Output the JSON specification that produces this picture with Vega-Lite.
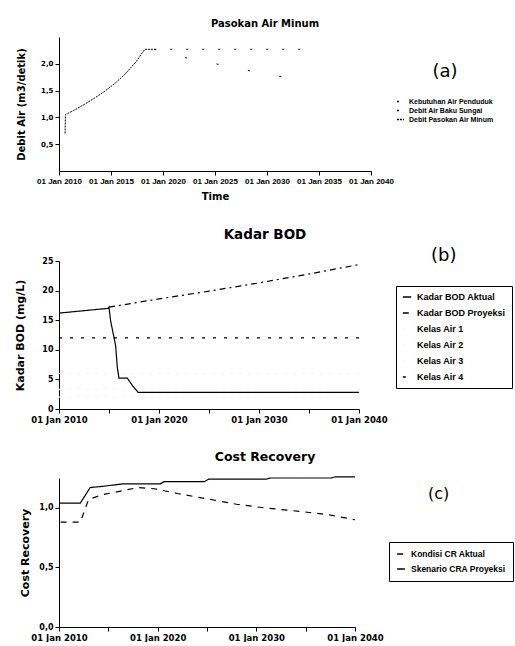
{
  "$schema": "https://vega.github.io/schema/vega-lite/v6.json",
  "padding": {"left": 14, "top": 19, "right": 0, "bottom": 0},
  "background": "white",
  "columns": 1,
  "spacing": 26,
  "resolve": {
    "scale": {"x": "independent", "y": "independent", "color": "independent", "strokeDash": "independent", "opacity": "independent"},
    "legend": {"color": "independent", "strokeDash": "independent", "opacity": "independent"}
  },
  "datasets": {
    "a": [
      {"date": "2010-08-01", "value": 0.7, "series": "Debit Pasokan Air Minum"},
      {"date": "2010-08-15", "value": 1.05, "series": "Debit Pasokan Air Minum"},
      {"date": "2011-06-01", "value": 1.13, "series": "Debit Pasokan Air Minum"},
      {"date": "2012-06-01", "value": 1.24, "series": "Debit Pasokan Air Minum"},
      {"date": "2013-06-01", "value": 1.36, "series": "Debit Pasokan Air Minum"},
      {"date": "2014-06-01", "value": 1.49, "series": "Debit Pasokan Air Minum"},
      {"date": "2015-06-01", "value": 1.64, "series": "Debit Pasokan Air Minum"},
      {"date": "2016-06-01", "value": 1.82, "series": "Debit Pasokan Air Minum"},
      {"date": "2017-06-01", "value": 2.04, "series": "Debit Pasokan Air Minum"},
      {"date": "2018-04-01", "value": 2.27, "series": "Debit Pasokan Air Minum"},
      {"date": "2019-03-01", "value": 2.27, "series": "Debit Pasokan Air Minum"},
      {"date": "2019-03-01", "value": 2.27, "series": "Debit Air Baku Sungai"},
      {"date": "2034-01-01", "value": 2.27, "series": "Debit Air Baku Sungai"},
      {"date": "2019-03-01", "value": 2.27, "series": "Kebutuhan Air Penduduk"},
      {"date": "2022-11-01", "value": 2.08, "series": "Kebutuhan Air Penduduk"},
      {"date": "2026-03-01", "value": 1.96, "series": "Kebutuhan Air Penduduk"},
      {"date": "2030-01-01", "value": 1.8, "series": "Kebutuhan Air Penduduk"},
      {"date": "2034-01-01", "value": 1.68, "series": "Kebutuhan Air Penduduk"}
    ],
    "b": [
      {"date": "2010-01-01", "value": 2, "series": "Kelas Air 1"},
      {"date": "2040-01-01", "value": 2, "series": "Kelas Air 1"},
      {"date": "2010-01-01", "value": 3.3, "series": "Kelas Air 2"},
      {"date": "2040-01-01", "value": 3.3, "series": "Kelas Air 2"},
      {"date": "2010-01-01", "value": 6, "series": "Kelas Air 3"},
      {"date": "2040-01-01", "value": 6, "series": "Kelas Air 3"},
      {"date": "2010-01-01", "value": 12, "series": "Kelas Air 4"},
      {"date": "2040-01-01", "value": 12, "series": "Kelas Air 4"},
      {"date": "2010-01-01", "value": 16.2, "series": "Kadar BOD Aktual"},
      {"date": "2014-12-01", "value": 17.0, "series": "Kadar BOD Aktual"},
      {"date": "2015-01-01", "value": 17.2, "series": "Kadar BOD Aktual"},
      {"date": "2015-03-01", "value": 14.9, "series": "Kadar BOD Aktual"},
      {"date": "2015-09-01", "value": 10.7, "series": "Kadar BOD Aktual"},
      {"date": "2015-11-01", "value": 7.0, "series": "Kadar BOD Aktual"},
      {"date": "2016-01-01", "value": 5.2, "series": "Kadar BOD Aktual"},
      {"date": "2016-11-01", "value": 5.2, "series": "Kadar BOD Aktual"},
      {"date": "2017-06-01", "value": 3.8, "series": "Kadar BOD Aktual"},
      {"date": "2017-12-01", "value": 2.8, "series": "Kadar BOD Aktual"},
      {"date": "2040-01-01", "value": 2.8, "series": "Kadar BOD Aktual"},
      {"date": "2015-01-01", "value": 17.2, "series": "Kadar BOD Proyeksi"},
      {"date": "2020-01-01", "value": 18.6, "series": "Kadar BOD Proyeksi"},
      {"date": "2025-01-01", "value": 19.9, "series": "Kadar BOD Proyeksi"},
      {"date": "2030-01-01", "value": 21.3, "series": "Kadar BOD Proyeksi"},
      {"date": "2035-01-01", "value": 22.8, "series": "Kadar BOD Proyeksi"},
      {"date": "2040-01-01", "value": 24.4, "series": "Kadar BOD Proyeksi"}
    ],
    "c": [
      {"date": "2010-03-01", "value": 0.88, "series": "Kondisi CR Aktual"},
      {"date": "2012-03-01", "value": 0.88, "series": "Kondisi CR Aktual"},
      {"date": "2013-01-01", "value": 1.07, "series": "Kondisi CR Aktual"},
      {"date": "2014-06-01", "value": 1.11, "series": "Kondisi CR Aktual"},
      {"date": "2016-04-01", "value": 1.14, "series": "Kondisi CR Aktual"},
      {"date": "2018-01-01", "value": 1.17, "series": "Kondisi CR Aktual"},
      {"date": "2019-09-01", "value": 1.16, "series": "Kondisi CR Aktual"},
      {"date": "2022-01-01", "value": 1.12, "series": "Kondisi CR Aktual"},
      {"date": "2025-05-01", "value": 1.07, "series": "Kondisi CR Aktual"},
      {"date": "2028-01-01", "value": 1.03, "series": "Kondisi CR Aktual"},
      {"date": "2030-10-01", "value": 1.0, "series": "Kondisi CR Aktual"},
      {"date": "2034-06-01", "value": 0.97, "series": "Kondisi CR Aktual"},
      {"date": "2037-06-01", "value": 0.94, "series": "Kondisi CR Aktual"},
      {"date": "2040-01-01", "value": 0.9, "series": "Kondisi CR Aktual"},
      {"date": "2010-01-01", "value": 1.04, "series": "Skenario CRA Proyeksi"},
      {"date": "2012-03-01", "value": 1.04, "series": "Skenario CRA Proyeksi"},
      {"date": "2013-03-01", "value": 1.17, "series": "Skenario CRA Proyeksi"},
      {"date": "2014-06-01", "value": 1.18, "series": "Skenario CRA Proyeksi"},
      {"date": "2016-06-01", "value": 1.2, "series": "Skenario CRA Proyeksi"},
      {"date": "2020-04-01", "value": 1.2, "series": "Skenario CRA Proyeksi"},
      {"date": "2020-09-01", "value": 1.22, "series": "Skenario CRA Proyeksi"},
      {"date": "2024-10-01", "value": 1.22, "series": "Skenario CRA Proyeksi"},
      {"date": "2025-03-01", "value": 1.24, "series": "Skenario CRA Proyeksi"},
      {"date": "2031-01-01", "value": 1.24, "series": "Skenario CRA Proyeksi"},
      {"date": "2031-06-01", "value": 1.25, "series": "Skenario CRA Proyeksi"},
      {"date": "2037-08-01", "value": 1.25, "series": "Skenario CRA Proyeksi"},
      {"date": "2038-01-01", "value": 1.26, "series": "Skenario CRA Proyeksi"},
      {"date": "2040-01-01", "value": 1.26, "series": "Skenario CRA Proyeksi"}
    ]
  },
  "concat": [
    {
      "width": 312,
      "height": 134,
      "title": {"text": "Pasokan Air Minum", "fontSize": 10, "offset": 8, "dx": 50},
      "data": {"name": "a"},
      "mark": {"type": "line", "strokeWidth": 1, "color": "black"},
      "encoding": {
        "x": {
          "field": "date", "type": "temporal", "title": "Time",
          "scale": {"type": "utc", "domain": [{"year": 2010, "month": 1, "date": 1, "utc": true}, {"year": 2040, "month": 1, "date": 1, "utc": true}]},
          "axis": {"format": "%d %b %Y", "tickCount": {"interval": "year", "step": 5}, "labelFont": "Liberation Sans", "labelFontSize": 8, "labelOverlap": false, "labelFlush": false, "titlePadding": 6}
        },
        "y": {
          "field": "value", "type": "quantitative", "title": "Debit Air (m3/detik)",
          "scale": {"domain": [0, 2.5]},
          "axis": {"values": [0.5, 1, 1.5, 2], "labelExpr": "replace(format(datum.value, '.1f'), '.', ',')", "titlePadding": 14, "labelFontSize": 7}
        },
        "strokeDash": {
          "field": "series", "type": "nominal",
          "scale": {"domain": ["Kebutuhan Air Penduduk", "Debit Air Baku Sungai", "Debit Pasokan Air Minum"], "range": [[2, 30], [2, 14], [2, 1]]},
          "legend": {"title": "(a)", "orient": "none", "legendX": 337, "legendY": 26, "titleFontSize": 18, "titleFontWeight": "normal", "titleAnchor": "middle", "titlePadding": 16, "labelFont": "Liberation Sans", "labelFontSize": 7, "labelFontWeight": "bold", "rowPadding": 1, "labelOffset": 4, "symbolType": "stroke", "symbolStrokeColor": "black", "symbolSize": 50}
        }
      }
    },
    {
      "width": 300,
      "height": 148,
      "title": {"text": "Kadar BOD", "fontSize": 13.5, "offset": 6, "dx": 56},
      "data": {"name": "b"},
      "mark": {"type": "line", "strokeWidth": 1.2},
      "encoding": {
        "x": {
          "field": "date", "type": "temporal", "title": null,
          "scale": {"type": "utc", "domain": [{"year": 2010, "month": 1, "date": 1, "utc": true}, {"year": 2040, "month": 1, "date": 1, "utc": true}]},
          "axis": {"tickCount": {"interval": "year", "step": 5}, "labelExpr": "utcyear(datum.value) % 10 == 0 ? utcFormat(datum.value, '%d %b %Y') : ''", "labelFontSize": 8.5, "labelOverlap": false, "labelFlush": false}
        },
        "y": {
          "field": "value", "type": "quantitative", "title": "Kadar BOD (mg/L)",
          "scale": {"domain": [0, 25]},
          "axis": {"values": [0, 5, 10, 15, 20, 25], "titlePadding": 16, "titleFontSize": 11}
        },
        "color": {
          "field": "series", "type": "nominal",
          "scale": {"domain": ["Kadar BOD Aktual", "Kadar BOD Proyeksi", "Kelas Air 1", "Kelas Air 2", "Kelas Air 3", "Kelas Air 4"], "range": ["black", "black", "#f6f6f6", "#f6f6f6", "#f6f6f6", "black"]},
          "legend": {"title": null, "orient": "none", "legendX": 337, "legendY": 25, "strokeColor": "black", "padding": 6, "labelFont": "Liberation Sans", "labelFontSize": 9, "labelFontWeight": "bold", "rowPadding": 6, "labelOffset": 5, "symbolType": "stroke", "symbolSize": 70}
        },
        "strokeDash": {
          "field": "series", "type": "nominal",
          "scale": {"domain": ["Kadar BOD Aktual", "Kadar BOD Proyeksi", "Kelas Air 1", "Kelas Air 2", "Kelas Air 3", "Kelas Air 4"], "range": [[1, 0], [6, 4, 2, 4], [3, 6], [3, 6], [3, 6], [3, 8]]},
          "legend": null
        },
        "opacity": {
          "datum": "(b)", "type": "nominal",
          "scale": {"range": [1, 1]},
          "legend": {"title": "(b)", "orient": "none", "legendX": 372, "legendY": -14, "titleFontSize": 18, "titleFontWeight": "normal", "symbolOpacity": 0, "symbolStrokeWidth": 0, "symbolStrokeColor": "white", "symbolFillColor": "white", "labelOpacity": 0, "labelFontSize": 1, "symbolSize": 1}
        }
      }
    },
    {
      "width": 296,
      "height": 149,
      "title": {"text": "Cost Recovery", "fontSize": 12.5, "offset": 11, "dx": 58},
      "data": {"name": "c"},
      "mark": {"type": "line", "strokeWidth": 1.2, "color": "black"},
      "encoding": {
        "x": {
          "field": "date", "type": "temporal", "title": null,
          "scale": {"type": "utc", "domain": [{"year": 2010, "month": 1, "date": 1, "utc": true}, {"year": 2040, "month": 1, "date": 1, "utc": true}]},
          "axis": {"tickCount": {"interval": "year", "step": 5}, "labelExpr": "utcyear(datum.value) % 10 == 0 ? utcFormat(datum.value, '%d %b %Y') : ''", "labelFontSize": 8.5, "labelOverlap": false, "labelFlush": false}
        },
        "y": {
          "field": "value", "type": "quantitative", "title": "Cost Recovery",
          "scale": {"domain": [0, 1.25]},
          "axis": {"values": [0, 0.5, 1], "labelExpr": "replace(format(datum.value, '.1f'), '.', ',')", "titlePadding": 8, "titleFontSize": 11}
        },
        "strokeDash": {
          "field": "series", "type": "nominal",
          "scale": {"domain": ["Kondisi CR Aktual", "Skenario CRA Proyeksi"], "range": [[6, 6], [1, 0]]},
          "legend": {"title": null, "orient": "none", "legendX": 330, "legendY": 64, "strokeColor": "black", "padding": 7, "labelFont": "Liberation Sans", "labelFontSize": 8.5, "labelFontWeight": "bold", "rowPadding": 5, "labelOffset": 5, "symbolType": "stroke", "symbolStrokeColor": "black", "symbolSize": 60}
        },
        "opacity": {
          "datum": "(c)", "type": "nominal",
          "scale": {"range": [1, 1]},
          "legend": {"title": "(c)", "orient": "none", "legendX": 369, "legendY": 8, "titleFontSize": 16, "titleFontWeight": "normal", "symbolOpacity": 0, "symbolStrokeWidth": 0, "symbolStrokeColor": "white", "symbolFillColor": "white", "labelOpacity": 0, "labelFontSize": 1, "symbolSize": 1}
        }
      }
    }
  ],
  "config": {
    "font": "DejaVu Sans",
    "view": {"stroke": null},
    "axis": {"grid": false, "domainColor": "black", "tickColor": "black", "labelColor": "black", "titleColor": "black", "labelFontSize": 8, "labelFontWeight": "bold", "titleFontSize": 10, "titleFontWeight": "bold", "tickSize": 4, "labelPadding": 2},
    "legend": {"labelColor": "black", "titleColor": "black"},
    "title": {"fontWeight": "bold", "color": "black", "font": "DejaVu Sans"}
  }
}
